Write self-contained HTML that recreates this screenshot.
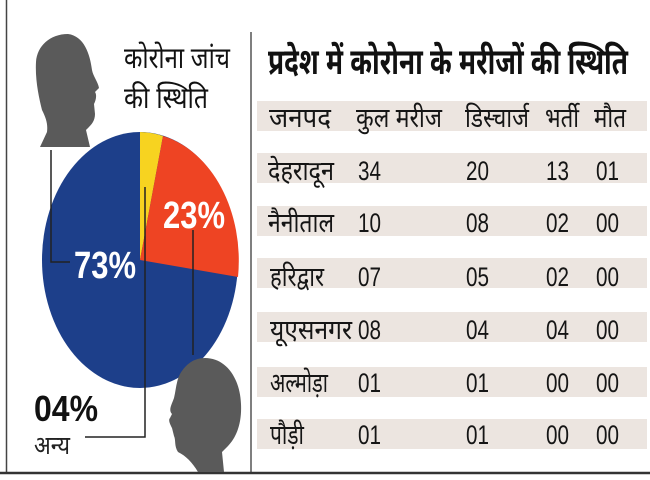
<!DOCTYPE html>
<html><head><meta charset="utf-8"><style>
html,body{margin:0;padding:0;background:#fff;}
svg{display:block;}
text{font-family:"Liberation Sans","Noto Sans Devanagari","Lohit Devanagari","FreeSans",sans-serif;}
</style></head><body>
<svg width="650" height="480" viewBox="0 0 650 480" xmlns="http://www.w3.org/2000/svg">
<rect width="650" height="480" fill="#fff"/>
<line x1="6.5" y1="0" x2="6.5" y2="473" stroke="#444" stroke-width="1.5"/>
<line x1="251" y1="32" x2="251" y2="473" stroke="#555" stroke-width="1.5"/>
<line x1="0" y1="473" x2="650" y2="473" stroke="#333" stroke-width="2.5"/>
<g fill="#ece5e0">
<rect x="257" y="101" width="390" height="30"/>
<rect x="257" y="153" width="390" height="30"/>
<rect x="257" y="206" width="390" height="30"/>
<rect x="257" y="258" width="390" height="30"/>
<rect x="257" y="312" width="390" height="30"/>
<rect x="257" y="367" width="390" height="30"/>
<rect x="257" y="419" width="390" height="30"/>
</g>
<ellipse cx="140" cy="260" rx="98" ry="128" fill="#1d3f8a"/>
<path d="M140,260 L140,132 A98,128 0 0 1 163,136 Z" fill="#f7d320"/>
<path d="M140,260 L163,136 A98,128 0 0 1 238,277 Z" fill="#ee4423"/>
<path d="M68,34 C50,34 37,46 36,62 C35,80 39,98 42,110 C46,118 48,124 47,132 L40,147 L90,147 L86,130 C90,126 95,122 95,114 L94,104 C96,100 97,95 95,92 L99,88 C98,82 93,76 92,70 C90,54 84,36 68,34 Z" fill="#5a5a5a"/>
<path d="M205,358 C226,358 240,378 241,404 C242,424 236,438 228,446 L222,452 L224,472 L198,472 C192,462 186,456 178,452 C174,446 176,440 174,436 L172,428 C170,424 168,420 170,418 L172,414 C168,410 172,404 174,398 C176,390 176,382 180,374 C186,364 194,358 205,358 Z" fill="#5a5a5a"/>
<polyline points="51,150 51,262 70,262" fill="none" stroke="#222" stroke-width="1.5"/>
<polyline points="145,187 145,437 85,437" fill="none" stroke="#222" stroke-width="1.5"/>
<line x1="193" y1="230" x2="193" y2="355" stroke="#222" stroke-width="1.5"/>
<text x="74" y="278" font-size="38" font-weight="bold" fill="#fff" textLength="62" lengthAdjust="spacingAndGlyphs">73%</text>
<text x="163" y="228" font-size="38" font-weight="bold" fill="#fff" textLength="62" lengthAdjust="spacingAndGlyphs">23%</text>
<text x="34" y="421" font-size="36" font-weight="bold" fill="#111" textLength="64" lengthAdjust="spacingAndGlyphs">04%</text>
<text x="34" y="454" font-size="26" fill="#222" textLength="36" lengthAdjust="spacingAndGlyphs">अन्य</text>
<text x="124" y="68" font-size="30" fill="#111" textLength="106" lengthAdjust="spacingAndGlyphs">कोरोना जांच</text>
<text x="124" y="108" font-size="30" fill="#111" textLength="84" lengthAdjust="spacingAndGlyphs">की स्थिति</text>
<text x="268" y="74" font-size="36" font-weight="bold" fill="#111" textLength="360" lengthAdjust="spacingAndGlyphs">प्रदेश में कोरोना के मरीजों की स्थिति</text>
<g font-size="27" fill="#151515">
<text x="269" y="127" textLength="62" lengthAdjust="spacingAndGlyphs">जनपद</text>
<text x="356" y="127" textLength="86" lengthAdjust="spacingAndGlyphs">कुल मरीज</text>
<text x="465" y="127" textLength="64" lengthAdjust="spacingAndGlyphs">डिस्चार्ज</text>
<text x="545" y="127" textLength="34" lengthAdjust="spacingAndGlyphs">भर्ती</text>
<text x="594" y="127" textLength="32" lengthAdjust="spacingAndGlyphs">मौत</text>

<text x="268" y="180" textLength="66" lengthAdjust="spacingAndGlyphs">देहरादून</text>
<text x="358" y="180" textLength="23" lengthAdjust="spacingAndGlyphs">34</text>
<text x="466" y="180" textLength="23" lengthAdjust="spacingAndGlyphs">20</text>
<text x="546" y="180" textLength="23" lengthAdjust="spacingAndGlyphs">13</text>
<text x="596" y="180" textLength="23" lengthAdjust="spacingAndGlyphs">01</text>

<text x="268" y="232" textLength="66" lengthAdjust="spacingAndGlyphs">नैनीताल</text>
<text x="358" y="232" textLength="23" lengthAdjust="spacingAndGlyphs">10</text>
<text x="466" y="232" textLength="23" lengthAdjust="spacingAndGlyphs">08</text>
<text x="546" y="232" textLength="23" lengthAdjust="spacingAndGlyphs">02</text>
<text x="596" y="232" textLength="23" lengthAdjust="spacingAndGlyphs">00</text>

<text x="270" y="286" textLength="54" lengthAdjust="spacingAndGlyphs">हरिद्वार</text>
<text x="358" y="286" textLength="23" lengthAdjust="spacingAndGlyphs">07</text>
<text x="466" y="286" textLength="23" lengthAdjust="spacingAndGlyphs">05</text>
<text x="546" y="286" textLength="23" lengthAdjust="spacingAndGlyphs">02</text>
<text x="596" y="286" textLength="23" lengthAdjust="spacingAndGlyphs">00</text>

<text x="270" y="339" textLength="82" lengthAdjust="spacingAndGlyphs">यूएसनगर</text>
<text x="358" y="339" textLength="23" lengthAdjust="spacingAndGlyphs">08</text>
<text x="466" y="339" textLength="23" lengthAdjust="spacingAndGlyphs">04</text>
<text x="546" y="339" textLength="23" lengthAdjust="spacingAndGlyphs">04</text>
<text x="596" y="339" textLength="23" lengthAdjust="spacingAndGlyphs">00</text>

<text x="270" y="392" textLength="58" lengthAdjust="spacingAndGlyphs">अल्मोड़ा</text>
<text x="358" y="392" textLength="23" lengthAdjust="spacingAndGlyphs">01</text>
<text x="466" y="392" textLength="23" lengthAdjust="spacingAndGlyphs">01</text>
<text x="546" y="392" textLength="23" lengthAdjust="spacingAndGlyphs">00</text>
<text x="596" y="392" textLength="23" lengthAdjust="spacingAndGlyphs">00</text>

<text x="270" y="444" textLength="34" lengthAdjust="spacingAndGlyphs">पौड़ी</text>
<text x="358" y="444" textLength="23" lengthAdjust="spacingAndGlyphs">01</text>
<text x="466" y="444" textLength="23" lengthAdjust="spacingAndGlyphs">01</text>
<text x="546" y="444" textLength="23" lengthAdjust="spacingAndGlyphs">00</text>
<text x="596" y="444" textLength="23" lengthAdjust="spacingAndGlyphs">00</text>
</g>
</svg>
</body></html>
